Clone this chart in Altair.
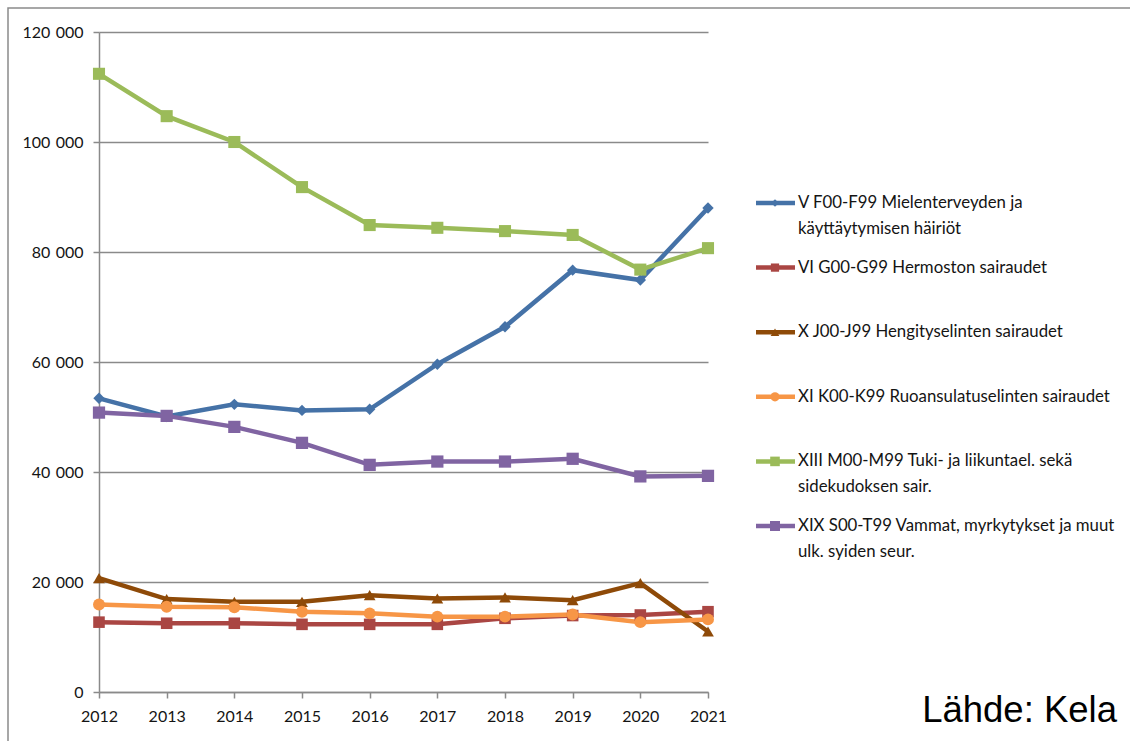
import altair as alt
import pandas as pd

years = [2012, 2013, 2014, 2015, 2016, 2017, 2018, 2019, 2020, 2021]

series_names = [
    "V F00-F99 Mielenterveyden ja käyttäytymisen häiriöt",
    "VI G00-G99 Hermoston sairaudet",
    "X J00-J99 Hengityselinten sairaudet",
    "XI K00-K99 Ruoansulatuselinten sairaudet",
    "XIII M00-M99 Tuki- ja liikuntael. sekä sidekudoksen sair.",
    "XIX S00-T99 Vammat, myrkytykset ja muut ulk. syiden seur.",
]
legend_line1 = [
    "V F00-F99 Mielenterveyden ja",
    "VI G00-G99 Hermoston sairaudet",
    "X J00-J99 Hengityselinten sairaudet",
    "XI K00-K99 Ruoansulatuselinten sairaudet",
    "XIII M00-M99 Tuki- ja liikuntael. sekä",
    "XIX S00-T99 Vammat, myrkytykset ja muut",
]
legend_line2 = [
    "käyttäytymisen häiriöt",
    "",
    "",
    "",
    "sidekudoksen sair.",
    "ulk. syiden seur.",
]

v_f = [53400, 50100, 52300, 51200, 51400, 59600, 66400, 76700, 74900, 88000]
vi_g = [12700, 12500, 12500, 12300, 12300, 12300, 13400, 13900, 14000, 14600]
x_j = [20700, 16900, 16400, 16400, 17600, 17000, 17200, 16700, 19800, 11000]
xi_k = [15900, 15500, 15400, 14600, 14300, 13700, 13700, 14100, 12700, 13200]
xiii_m = [112400, 104700, 100000, 91800, 84900, 84400, 83800, 83100, 76800, 80700]
xix_s = [50800, 50200, 48200, 45300, 41300, 41900, 41900, 42400, 39200, 39300]

colors = ["#4572A7", "#AA4643", "#8E4A08", "#F79646", "#9BBB59", "#8064A2"]
shapes = ["diamond", "square", "triangle-up", "circle", "square", "square"]
marker_sizes = [130, 150, 160, 160, 150, 150]
legend_sizes = [60, 100, 100, 90, 100, 100]

values = [v_f, vi_g, x_j, xi_k, xiii_m, xix_s]
rows = []
for i, (name, vals) in enumerate(zip(series_names, values)):
    for y, v in zip(years, vals):
        rows.append({"series": name, "order": i, "year": str(y), "value": v})
df = pd.DataFrame(rows)

leg = pd.DataFrame({
    "series": series_names,
    "order": list(range(len(series_names))),
    "line1": legend_line1,
    "line2": legend_line2,
})

FONT = "Lato"
TXT = "#141414"
GRID = "#8a8a8a"
color_scale = alt.Scale(domain=series_names, range=colors)
shape_scale = alt.Scale(domain=series_names, range=shapes)

x_axis = alt.Axis(title=None, labelAngle=0, grid=False)
y_axis = alt.Axis(
    title=None, values=[0, 20000, 40000, 60000, 80000, 100000, 120000],
    labelExpr="replace(format(datum.value, ','), ',', '\u2004')",
    grid=True,
)
x_enc = alt.X("year:O", scale=alt.Scale(type="point", padding=0), axis=x_axis)
y_enc = alt.Y("value:Q", scale=alt.Scale(domain=[0, 120000], nice=False), axis=y_axis)

base = alt.Chart(df)
lines = base.mark_line(strokeWidth=4.5).encode(
    x=x_enc, y=y_enc,
    color=alt.Color("series:N", scale=color_scale, legend=None),
    detail="order:O",
    order=alt.Order("year:O"),
)
points = base.mark_point(filled=True, opacity=1).encode(
    x=x_enc, y=y_enc,
    color=alt.Color("series:N", scale=color_scale, legend=None),
    shape=alt.Shape("series:N", scale=shape_scale, legend=None),
    size=alt.Size("series:N", scale=alt.Scale(domain=series_names, range=marker_sizes), legend=None),
)
main = alt.layer(lines, points)

leg_y = alt.Y("order:O", scale=alt.Scale(type="point", range=[171, 494], padding=0), axis=None)
legbase = alt.Chart(leg)
leg_rule = legbase.mark_rule(strokeWidth=4.5).encode(
    x=alt.value(657), x2=alt.value(696), y=leg_y,
    color=alt.Color("series:N", scale=color_scale, legend=None),
)
leg_pt = legbase.mark_point(filled=True, opacity=1).encode(
    x=alt.value(676), y=leg_y,
    color=alt.Color("series:N", scale=color_scale, legend=None),
    shape=alt.Shape("series:N", scale=shape_scale, legend=None),
    size=alt.Size("series:N", scale=alt.Scale(domain=series_names, range=legend_sizes), legend=None),
)
leg_t1 = legbase.mark_text(align="left", baseline="middle", font=FONT, fontSize=16.8, color=TXT).encode(
    x=alt.value(699), y=leg_y, text="line1:N",
)
leg_t2 = legbase.mark_text(align="left", baseline="middle", font=FONT, fontSize=16.8, color=TXT, dy=26).encode(
    x=alt.value(699), y=leg_y, text="line2:N",
)
legend = alt.layer(leg_rule, leg_pt, leg_t1, leg_t2)

source = alt.Chart(pd.DataFrame({"t": ["Lähde: Kela"]})).mark_text(
    align="right", baseline="alphabetic", font="Liberation Sans", fontSize=36.5, color="#000000"
).encode(x=alt.value(1018), y=alt.value(690), text="t:N")

frame = alt.Chart(pd.DataFrame({"a": [0]})).mark_rect(
    fill=None, stroke=GRID, strokeWidth=1.5
).encode(x=alt.value(-91), x2=alt.value(1060), y=alt.value(-24), y2=alt.value(730))

chart = alt.layer(frame, main, legend, source).resolve_scale(
    y="independent", size="independent"
).properties(
    width=609, height=660,
    autosize=alt.AutoSizeParams(type="none"),
    padding={"left": 99, "top": 32, "right": 422, "bottom": 49},
    background="white",
).configure_view(stroke=None).configure_axis(
    labelFont=FONT, labelFontSize=16, labelColor=TXT, labelPadding=10,
    tickSize=6, tickColor=GRID, tickWidth=1.5,
    domainColor=GRID, domainWidth=1.5,
    gridColor=GRID, gridWidth=1.5,
)

chart.save("out.html", embed_options={"renderer": "svg", "actions": False})
